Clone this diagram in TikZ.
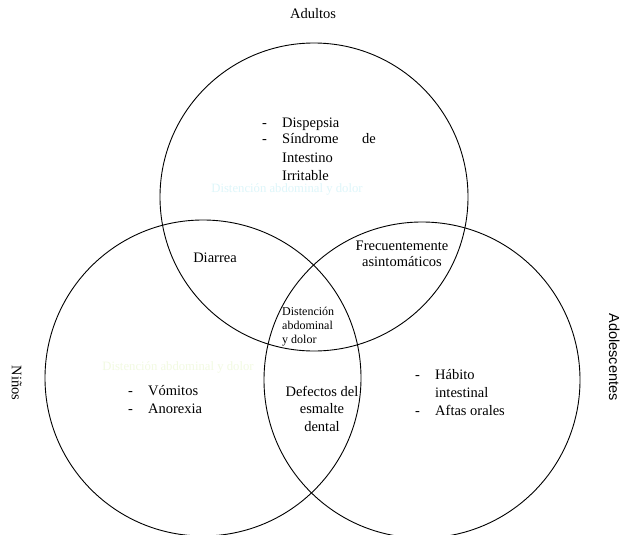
\documentclass[tikz,border=0pt]{standalone}
\usepackage{fontspec}
\setmainfont{Liberation Serif}
\newfontfamily\arialf{Liberation Sans}
\definecolor{fcyan}{RGB}{222,246,250}
\definecolor{fyel}{RGB}{242,250,226}
\begin{document}
\begin{tikzpicture}[x=1pt,y=-1pt,
  ring/.style={draw=black,line width=0.9pt},
  lbl/.style={inner sep=0pt,font=\fontsize{14.5}{17}\selectfont},
  sml/.style={inner sep=0pt,font=\fontsize{12}{14}\selectfont},
  ghost/.style={inner sep=0pt,font=\fontsize{12.7}{15}\selectfont}]
\useasboundingbox (0,0) rectangle (624,535);
\fill[white] (0,0) rectangle (624,535);
% circles
\draw[ring] (314,197) circle (154);
\draw[ring] (203,378) circle (158);
\draw[ring] (422,380) circle (158);
% outer labels
\node[lbl,anchor=base] (adultos) at (313,19) {Adultos};
\node[lbl,anchor=base,rotate=-90] (ninos) at (12,383) {Niños};
\node[inner sep=0pt,anchor=base,rotate=-90,font=\arialf\fontsize{14.5}{17}\selectfont] (adol) at (609,357) {Adolescentes};
% top circle list
\node[lbl,anchor=base west] (d1) at (262,128) {-};
\node[lbl,anchor=base west] (t1) at (282,128) {Dispepsia};
\node[lbl,anchor=base west] (d2) at (262,143) {-};
\node[lbl,anchor=base west] (t2) at (282,143) {Síndrome};
\node[lbl,anchor=base west] (t2b) at (362,143) {de};
\node[lbl,anchor=base west] (t3) at (282,162) {Intestino};
\node[lbl,anchor=base west] (t4) at (282,180) {Irritable};
\node[ghost,anchor=base,text=fcyan] (g1) at (287,192) {Distención abdominal y dolor};
% intersections
\node[lbl,anchor=base] (diarrea) at (215,262) {Diarrea};
\node[lbl,anchor=base] (frec1) at (402,250) {Frecuentemente};
\node[lbl,anchor=base] (frec2) at (402,266) {asintomáticos};
\node[sml,anchor=base west] (c1) at (282,315) {Distención};
\node[sml,anchor=base west] (c2) at (282,329) {abdominal};
\node[sml,anchor=base west] (c3) at (282,343) {y dolor};
\node[lbl,anchor=base] (def1) at (322,396) {Defectos del};
\node[lbl,anchor=base] (def2) at (322,413) {esmalte};
\node[lbl,anchor=base] (def3) at (322,431) {dental};
% left circle
\node[ghost,anchor=base,text=fyel] (g2) at (178,370) {Distención abdominal y dolor};
\node[lbl,anchor=base west] (l1d) at (128,395) {-};
\node[lbl,anchor=base west] (l1) at (148,395) {Vómitos};
\node[lbl,anchor=base west] (l2d) at (128,413) {-};
\node[lbl,anchor=base west] (l2) at (148,413) {Anorexia};
% right circle
\node[lbl,anchor=base west] (r1d) at (415,379) {-};
\node[lbl,anchor=base west] (r1) at (435,379) {Hábito};
\node[lbl,anchor=base west] (r2) at (435,397) {intestinal};
\node[lbl,anchor=base west] (r3d) at (415,415) {-};
\node[lbl,anchor=base west] (r3) at (435,415) {Aftas orales};
\end{tikzpicture}
\end{document}
